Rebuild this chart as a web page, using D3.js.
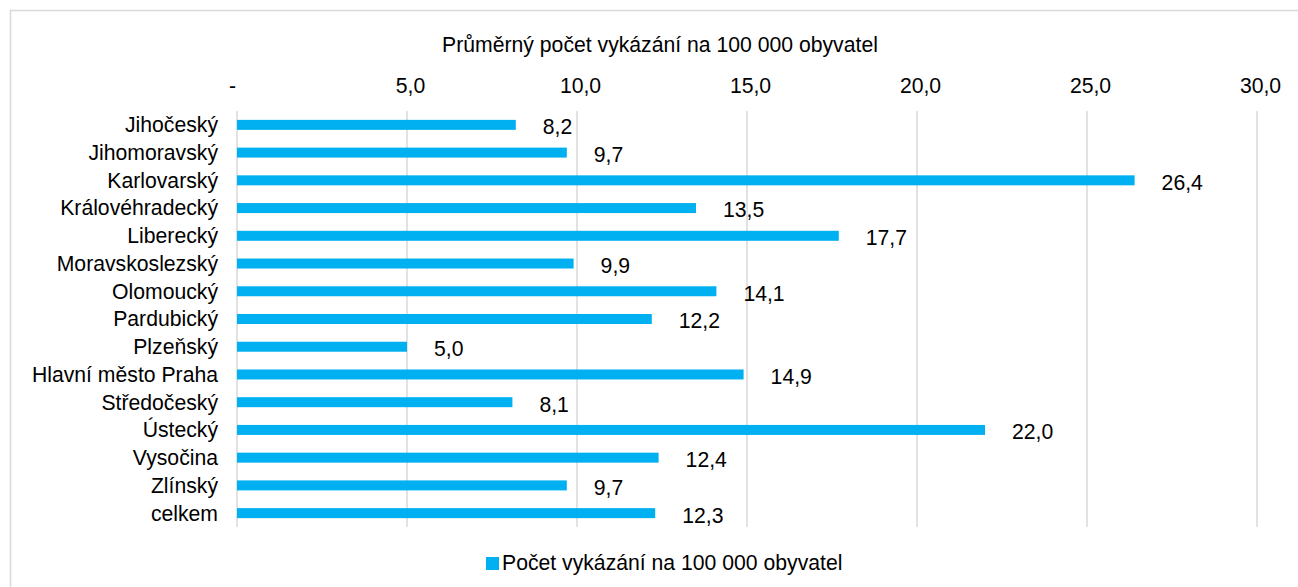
<!DOCTYPE html>
<html>
<head>
<meta charset="utf-8">
<script src="https://cdn.jsdelivr.net/npm/d3@7"></script>
<style>
  body { margin: 0; background: #fff; }
  svg text { font-family: "Liberation Sans", Arial, sans-serif; fill: #000; }
</style>
</head>
<body>
<div id="chart"></div>
<script>
'use strict';

var categories = ['Jihočeský', 'Jihomoravský', 'Karlovarský', 'Královéhradecký', 'Liberecký',
    'Moravskoslezský', 'Olomoucký', 'Pardubický', 'Plzeňský', 'Hlavní město Praha',
    'Středočeský', 'Ústecký', 'Vysočina', 'Zlínský', 'celkem'];
var values = [8.2, 9.7, 26.4, 13.5, 17.7, 9.9, 14.1, 12.2, 5.0, 14.9, 8.1, 22.0, 12.4, 9.7, 12.3];
var tickValues = [0, 5, 10, 15, 20, 25, 30];
var axisTitle = 'Průměrný počet vykázání na 100 000 obyvatel';
var seriesName = 'Počet vykázání na 100 000 obyvatel';

var W = 1298, H = 587;
var fontSize = 21.2;
var barColor = '#00b0f0';
var gridColor = '#d9d9d9';

function fmt(d) {
    return d === 0 ? '-' : d.toFixed(1).replace('.', ',');
}

var svg = d3.select('#chart')
    .append('svg')
    .attr('width', W)
    .attr('height', H);

// chart border (runs off the right and bottom edge)
svg.append('rect')
    .attr('x', 10.5).attr('y', 10.5)
    .attr('width', 1400).attr('height', 700)
    .attr('fill', 'none')
    .attr('stroke', gridColor)
    .attr('stroke-width', 1.5);

var x = d3.scaleLinear().domain([0, 30]).range([237, 1257]);
var y = d3.scaleBand()
    .domain(categories)
    .range([111, 527])
    .paddingInner(0.64)
    .paddingOuter(0.32);

// gridlines
svg.append('g')
    .selectAll('line')
    .data(tickValues)
    .enter()
    .append('line')
    .attr('x1', function (d) { return x(d); })
    .attr('x2', function (d) { return x(d); })
    .attr('y1', 111)
    .attr('y2', 527)
    .attr('stroke', gridColor)
    .attr('stroke-width', 1.5);

// top axis labels
var axis = svg.append('g')
    .attr('transform', 'translate(0,111)')
    .call(d3.axisTop(x).tickValues(tickValues).tickFormat(fmt).tickSize(0).tickPadding(18));
axis.select('.domain').remove();
axis.selectAll('text')
    .attr('font-size', fontSize)
    .attr('font-family', '"Liberation Sans", Arial, sans-serif')
    .attr('fill', '#000')
    .attr('dx', function (d) { return d === 0 ? -5 : 3; });

// axis title
svg.append('text')
    .attr('x', 660)
    .attr('y', 52)
    .attr('text-anchor', 'middle')
    .attr('font-size', fontSize)
    .text(axisTitle);

// category labels
svg.append('g')
    .selectAll('text')
    .data(categories)
    .enter()
    .append('text')
    .attr('x', 218)
    .attr('y', function (d) { return y(d) + y.bandwidth() / 2; })
    .attr('dy', '0.35em')
    .attr('text-anchor', 'end')
    .attr('font-size', fontSize)
    .text(function (d) { return d; });

// bars
svg.append('g')
    .selectAll('rect')
    .data(values)
    .enter()
    .append('rect')
    .attr('x', x(0))
    .attr('y', function (d, i) { return y(categories[i]); })
    .attr('width', function (d) { return x(d) - x(0); })
    .attr('height', y.bandwidth())
    .attr('fill', barColor);

// data labels
svg.append('g')
    .selectAll('text')
    .data(values)
    .enter()
    .append('text')
    .attr('x', function (d) { return x(d) + 27; })
    .attr('y', function (d, i) { return y(categories[i]) + y.bandwidth() / 2 + 2; })
    .attr('dy', '0.35em')
    .attr('font-size', fontSize)
    .text(fmt);

// legend
var legend = svg.append('g');
legend.append('rect')
    .attr('x', 486).attr('y', 557)
    .attr('width', 13).attr('height', 13)
    .attr('fill', barColor);
legend.append('text')
    .attr('x', 502)
    .attr('y', 570)
    .attr('font-size', fontSize)
    .text(seriesName);
</script>
</body>
</html>
